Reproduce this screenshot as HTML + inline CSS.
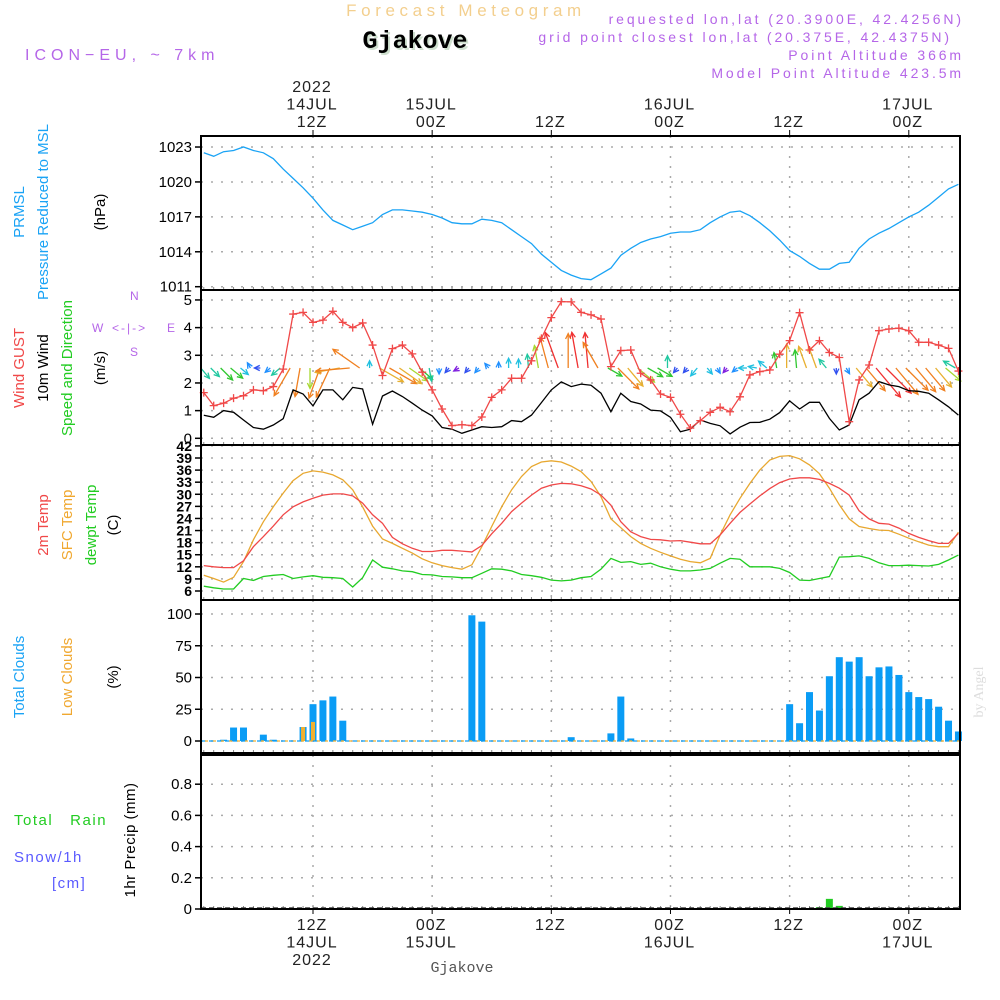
<!DOCTYPE html>
<html><head><meta charset="utf-8">
<style>
html,body{margin:0;padding:0;background:#fff;}
svg{display:block;font-family:"Liberation Sans",sans-serif;}
</style></head>
<body>
<svg id="chart" width="1000" height="1000" viewBox="0 0 1000 1000" xmlns="http://www.w3.org/2000/svg">
<rect x="0" y="0" width="1000" height="1000" fill="#fff"/>
<!-- header -->
<text x="466" y="16" text-anchor="middle" font-size="17" fill="#f3cf8e" letter-spacing="4.6">Forecast Meteogram</text>
<text x="417" y="50" text-anchor="middle" font-family="Liberation Mono, monospace" font-weight="bold" font-size="25" fill="#cfe0cf">Gjakove</text>
<text x="415" y="48" text-anchor="middle" font-family="Liberation Mono, monospace" font-weight="bold" font-size="25" fill="#000">Gjakove</text>
<text x="25" y="60" font-size="16" fill="#b566e8" letter-spacing="5">ICON−EU, ~ 7km</text>
<g font-size="14" fill="#b566e8" text-anchor="end" letter-spacing="2.9">
<text x="964" y="24">requested lon,lat (20.3900E, 42.4256N)</text>
<text x="952" y="42">grid point closest lon,lat (20.375E, 42.4375N)</text>
<text x="964" y="60">Point Altitude 366m</text>
<text x="964" y="78">Model Point Altitude 423.5m</text>
</g>
<!-- left labels -->
<g font-size="15">
<text transform="translate(24,212) rotate(-90)" text-anchor="middle" fill="#1aa3f5">PRMSL</text>
<text transform="translate(48,212) rotate(-90)" text-anchor="middle" fill="#1aa3f5">Pressure Reduced to MSL</text>
<text transform="translate(105,212) rotate(-90)" text-anchor="middle" fill="#000">(hPa)</text>
</g>
<g font-size="15">
<text transform="translate(24,368) rotate(-90)" text-anchor="middle" fill="#f04848">Wind GUST</text>
<text transform="translate(48,368) rotate(-90)" text-anchor="middle" fill="#000">10m Wind</text>
<text transform="translate(72,368) rotate(-90)" text-anchor="middle" fill="#22cc22">Speed and Direction</text>
<text transform="translate(105,368) rotate(-90)" text-anchor="middle" fill="#000">(m/s)</text>
</g>
<g font-size="12" fill="#b566e8">
<text x="92" y="332">W</text>
<text x="112" y="332" letter-spacing="2">&lt;-|-&gt;</text>
<text x="167" y="332">E</text>
<text x="130" y="300">N</text>
<text x="130" y="356">S</text>
</g>
<g font-size="15">
<text transform="translate(48,525) rotate(-90)" text-anchor="middle" fill="#f04848">2m Temp</text>
<text transform="translate(72,525) rotate(-90)" text-anchor="middle" fill="#f0a830">SFC Temp</text>
<text transform="translate(96,525) rotate(-90)" text-anchor="middle" fill="#22cc22">dewpt Temp</text>
<text transform="translate(118,525) rotate(-90)" text-anchor="middle" fill="#000">(C)</text>
</g>
<g font-size="15">
<text transform="translate(24,677) rotate(-90)" text-anchor="middle" fill="#1aa3f5">Total Clouds</text>
<text transform="translate(72,677) rotate(-90)" text-anchor="middle" fill="#f0a830">Low Clouds</text>
<text transform="translate(118,677) rotate(-90)" text-anchor="middle" fill="#000">(%)</text>
</g>
<g font-size="15" letter-spacing="1.5">
<text x="14" y="825" fill="#22cc22">Total&#160;&#160;&#160;Rain</text>
<text x="14" y="862" fill="#5a5aff">Snow/1h</text>
<text x="52" y="888" fill="#5a5aff">[cm]</text>
<text transform="translate(135,840) rotate(-90)" text-anchor="middle" fill="#000" letter-spacing="0.5">1hr Precip (mm)</text>
</g>
<text transform="translate(983,692) rotate(-90)" text-anchor="middle" font-family="Liberation Serif, serif" font-size="14" fill="#dddddd">by Angel</text>
<text x="462" y="972" text-anchor="middle" font-family="Liberation Mono, monospace" font-size="15" fill="#555">Gjakove</text>
<g id="plot"></g>
</svg>
<script>
// hours relative to 12Z 14JUL 2022
const hours=[];for(let h=-11;h<=65;h++)hours.push(h);
const pressure=[1022.5,1022.2,1022.6,1022.7,1023.0,1022.7,1022.5,1022.0,1021.1,1020.3,1019.5,
1018.6,1017.6,1016.7,1016.3,1015.9,1016.2,1016.5,1017.2,1017.6,1017.6,1017.5,1017.4,1017.2,1016.9,1016.5,1016.4,1016.4,1016.8,1016.7,1016.5,1015.9,1015.3,1014.7,1013.8,
1013.1,1012.4,1012.0,1011.7,1011.6,1012.1,1012.6,1013.7,1014.3,1014.8,1015.1,1015.3,1015.6,1015.7,1015.7,1015.9,1016.5,1017.0,1017.4,1017.5,1017.1,1016.5,1015.8,1015.0,
1014.1,1013.6,1013.0,1012.5,1012.5,1013.0,1013.1,1014.3,1015.1,1015.6,1016.0,1016.5,1017.0,1017.4,1018.0,1018.7,1019.4,1019.8];
const gust=[1.65,1.18,1.27,1.45,1.54,1.75,1.72,1.87,2.5,4.49,4.55,
4.19,4.27,4.59,4.19,4.0,4.17,3.37,2.27,3.24,3.37,3.05,2.39,1.75,1.06,0.46,0.49,0.46,0.77,1.48,1.75,2.17,2.17,2.8,3.61,
4.36,4.94,4.93,4.55,4.46,4.31,2.59,3.17,3.19,2.35,2.11,1.6,1.48,0.87,0.37,0.64,0.94,1.12,0.96,1.5,2.29,2.41,2.47,3.04,
3.53,4.54,3.19,3.53,3.1,2.92,0.6,2.11,2.65,3.89,3.95,3.98,3.89,3.47,3.47,3.37,3.25,2.43];
const wind=[0.83,0.76,1.0,0.94,0.66,0.39,0.33,0.48,0.71,1.75,1.6,
1.17,1.75,1.75,1.39,1.84,1.78,0.51,1.53,1.71,1.51,1.27,1.02,0.81,0.39,0.33,0.18,0.3,0.42,0.39,0.42,0.64,0.6,0.84,1.29,
1.75,2.04,1.87,1.96,1.92,1.63,0.96,1.63,1.33,1.24,1.02,0.99,0.76,0.24,0.33,0.66,0.54,0.45,0.16,0.4,0.57,0.58,0.69,0.93,
1.35,1.06,1.3,1.3,0.72,0.3,0.48,1.39,1.63,2.05,1.93,1.87,1.72,1.7,1.63,1.39,1.14,0.84];
const windDir=[320,315,315,310,310,150,90,50,50,30,10,
0,20,25,80,85,125,180,300,300,305,305,310,350,0,40,60,40,40,140,180,180,180,175,170,
165,160,180,170,175,150,300,315,320,310,300,300,180,40,40,40,320,330,40,50,90,100,130,170,
180,175,160,160,140,0,330,320,320,320,315,320,315,320,320,320,310,120];
const temp2m=[12.3,12.0,11.8,11.8,13.5,17.0,19.5,22.1,24.9,26.9,28.1,
29.0,29.8,30.1,30.1,29.6,27.8,24.9,22.8,19.3,17.7,16.6,15.8,15.8,16.1,16.1,15.9,15.7,17.3,20.2,22.8,25.7,27.8,29.8,31.5,
32.3,32.7,32.6,32.1,31.3,29.8,27.3,23.2,20.7,19.5,18.8,18.7,18.4,18.5,18.1,17.7,17.7,19.9,22.8,25.5,27.6,29.6,31.4,32.9,
33.8,34.1,34.1,33.7,32.7,31.5,29.8,25.9,23.9,22.8,22.6,21.6,20.3,19.3,18.5,17.8,17.8,20.3];
const tempSfc=[9.9,9.1,8.2,9.4,13.3,18.7,23.2,26.9,30.3,33.4,35.2,
35.8,35.5,34.8,33.6,31.1,26.9,22.1,18.9,17.8,16.6,15.4,14.0,13.0,12.3,11.8,11.4,12.5,17.0,22.0,26.9,31.1,34.4,36.9,38.0,
38.3,38.0,37.0,35.6,33.2,29.4,23.9,21.7,19.5,17.8,16.6,15.6,14.7,13.9,13.3,13.0,14.1,19.9,24.9,29.0,32.7,36.0,38.5,39.4,
39.6,38.8,37.3,35.1,31.5,27.4,23.9,22.0,21.5,21.1,21.0,20.1,19.1,18.2,17.4,17.0,17.0,20.6];
const dewpt=[7.2,6.8,6.5,6.5,9.1,8.6,9.6,9.9,10.1,9.1,9.5,
9.8,9.4,9.3,9.1,7.0,9.3,13.7,11.9,11.5,11.0,10.8,10.1,10.0,9.6,9.5,9.3,9.3,10.4,11.5,11.4,11.0,10.1,9.8,9.4,
8.7,8.5,8.7,9.3,9.6,11.4,14.1,13.1,13.3,12.6,12.9,12.0,11.4,11.0,11.0,11.2,11.6,12.9,14.1,13.9,12.0,12.0,12.0,11.6,
10.6,8.7,8.6,9.1,9.6,14.4,14.5,14.7,14.1,13.0,12.3,12.3,12.4,12.3,12.2,12.6,13.7,14.9];
const totalClouds=[0,0,1,10.6,10.6,0,5,1,0,0,11,
29,32,35,16,0,0,0,0,0,0,0,0,0,0,0,0,99,94,0,0,0,0,0,0,
0,0,3,0,0,0,6,35,2,0,0,0,0,0,0,0,0,0,0,0,0,0,0,0,
29,14,38.5,24,51,66,62.5,66,51,58,58.7,52,38.5,34.6,33,27,16,7.5];
const lowClouds=[0,0,0,0,0,0,0,0,0,0,11,
15,0,0,0,0,0,0,0,0,0,0,0,0,0,0,0,0,0,0,0,0,0,0,0,
0,0,0,0,0,0,0,0,0,0,0,0,0,0,0,0,0,0,0,0,0,0,0,0,
0,0,0,0,0,0,0,0,0,0,0,0,0,0,0,0,0,0];
const precipHours=[51,52,53];
const precipVals=[0.012,0.065,0.02];
const pressTicks=[1011,1014,1017,1020,1023];
const windTicks=[0,1,2,3,4,5];
const tempTicks=[6,9,12,15,18,21,24,27,30,33,36,39,42];
const cloudTicks=[0,25,50,75,100];
const precipTicks=[0,0.2,0.4,0.6,0.8];
const timeTicks=[0,12,24,36,48,60];
const topLabels=[["2022","14JUL","12Z"],["","15JUL","00Z"],["","","12Z"],["","16JUL","00Z"],["","","12Z"],["","17JUL","00Z"]];
const botLabels=[["12Z","14JUL","2022"],["00Z","15JUL",""],["12Z","",""],["00Z","16JUL",""],["12Z","",""],["00Z","17JUL",""]];

const NS="http://www.w3.org/2000/svg";
const plot=document.getElementById('plot');
const X0=201,X1=960;
function xH(h){return 313+h*9.93;}
function yP(p){return 286.7-(p-1011)*11.64;}
function yW(v){return 438.3-v*27.67;}
function yT(t){return 591-(t-6)*4.03;}
function yC(c){return 741-c*1.27;}
function yR(r){return 909-r*156;}
function mk(tag,attrs,parent){const e=document.createElementNS(NS,tag);for(const k in attrs)e.setAttribute(k,attrs[k]);(parent||plot).appendChild(e);return e;}

const panels=[{name:'pressure',y0:136,y1:290,ticks:pressTicks,f:yP,lab:v=>String(v)},
{name:'wind',y0:290,y1:445,ticks:windTicks,f:yW,lab:v=>String(v)},
{name:'temp',y0:445,y1:600,ticks:tempTicks,f:yT,lab:v=>String(v)},
{name:'cloud',y0:600,y1:753,ticks:cloudTicks,f:yC,lab:v=>String(v)},
{name:'precip',y0:755,y1:909,ticks:precipTicks,f:yR,lab:v=>v===0?'0':v.toFixed(1)}];

panels.forEach(p=>{
  timeTicks.forEach(h=>{
    const l=mk('line',{x1:xH(h),x2:xH(h),y1:p.y0,y2:p.y1,stroke:'#aaa','stroke-width':1.5,'stroke-dasharray':'2,8'});
    
    
  });
  p.ticks.forEach(v=>{
    const y=p.f(v);
    const g=mk('line',{x1:X0,x2:X1,y1:y,y2:y,stroke:'#aaa','stroke-width':1.5,'stroke-dasharray':'2,8'});
    
    
    const t=mk('line',{x1:X0-6,x2:X0,y1:y,y2:y,stroke:'#000','stroke-width':1.5});
    
    
    const tx=mk('text',{x:X0-9,y:y+5,'text-anchor':'end','font-size':p.name==='temp'?14:15,fill:'#000'});
    
    
    if(p.name==='temp')tx.setAttribute('font-weight','bold');
    tx.textContent=p.lab(v);
  });
  hours.forEach(h=>{
    const t=mk('line',{x1:xH(h),x2:xH(h),y1:p.y1-3,y2:p.y1,stroke:'#888','stroke-width':1});
    
    
  });
});

function line(arr,f,color,name,w){
  const pts=hours.map((h,i)=>xH(h).toFixed(1)+','+f(arr[i]).toFixed(1)).join(' ');
  const e=mk('polyline',{points:pts,fill:'none',stroke:color,'stroke-width':w||1.3});
  
  
  return e;
}
line(pressure,yP,'#1aa3f5','pressure-line');

function spdColor(s){
  if(s>=1.9)return '#f03030';if(s>=1.6)return '#f08020';if(s>=1.3)return '#e8b030';
  if(s>=1.1)return '#a8d830';if(s>=0.9)return '#30c830';if(s>=0.7)return '#20c8a0';
  if(s>=0.5)return '#20c0e0';if(s>=0.35)return '#2090ff';if(s>=0.2)return '#3050f0';return '#8020e0';}
hours.forEach((h,i)=>{
  const s=wind[i],L=Math.max(6,20*s-3),to=(windDir[i]+180)*Math.PI/180;
  const x0=xH(h)-3,y0=368,x1=x0+Math.sin(to)*L,y1=y0-Math.cos(to)*L;
  const a=Math.atan2(y1-y0,x1-x0),hl=6,c=spdColor(s);
  const g=mk('g',{stroke:c,'stroke-width':1.3,fill:'none'});
  
  
  mk('line',{x1:x0,y1:y0,x2:x1,y2:y1},g);
  mk('polyline',{points:(x1-hl*Math.cos(a-0.45))+','+(y1-hl*Math.sin(a-0.45))+' '+x1+','+y1+' '+(x1-hl*Math.cos(a+0.45))+','+(y1-hl*Math.sin(a+0.45))},g);
});
line(wind,yW,'#000','wind-speed-line');
line(gust,yW,'#f04848','wind-gust-line');
hours.forEach((h,i)=>{
  const x=xH(h),y=yW(gust[i]);
  const m=mk('path',{d:`M${x-4},${y}H${x+4}M${x},${y-4}V${y+4}`,stroke:'#f04848','stroke-width':1.3});
  
  
});
line(tempSfc,yT,'#e8a830','sfc-temp-line');
line(temp2m,yT,'#f04848','temp-2m-line');
line(dewpt,yT,'#22cc22','dewpt-line');

hours.forEach((h,i)=>{
  if(totalClouds[i]>0){
    const b=mk('rect',{x:xH(h)-3.5,y:yC(totalClouds[i]),width:7,height:yC(0)-yC(totalClouds[i]),fill:'#0a9cf5'});
    
    
  }
  if(lowClouds[i]>0){
    const b=mk('rect',{x:xH(h)-2,y:yC(lowClouds[i]),width:4,height:yC(0)-yC(lowClouds[i]),fill:'#f0b030'});
    
    
  }
});
const cz=mk('line',{x1:X0,x2:X1,y1:741,y2:741,stroke:'#0a9cf5','stroke-width':1.2,'stroke-dasharray':'5,3'});


const lz=mk('line',{x1:X0+4,x2:X1,y1:741,y2:741,stroke:'#f0b030','stroke-width':1.2,'stroke-dasharray':'3,5'});



precipHours.forEach((h,i)=>{
  const b=mk('rect',{x:xH(h)-3.5,y:yR(precipVals[i]),width:7,height:yR(0)-yR(precipVals[i]),fill:'#22cc22'});
  
  
});
const pz=mk('line',{x1:X0,x2:X1,y1:908,y2:908,stroke:'#444','stroke-width':1.5,'stroke-dasharray':'5,3'});



panels.forEach(p=>{
  const r=mk('rect',{x:X0,y:p.y0,width:X1-X0,height:p.y1-p.y0,fill:'none',stroke:'#000','stroke-width':2});
  
  
});

timeTicks.forEach((h,i)=>{
  const x=xH(h)-1;
  const tk=mk('line',{x1:x+1,x2:x+1,y1:130,y2:136,stroke:'#000','stroke-width':1});
  
  
  topLabels[i].forEach((s,j)=>{
    if(!s)return;
    const t=mk('text',{x:x,y:92+j*17.5,'text-anchor':'middle','font-size':16,fill:'#222','letter-spacing':'1'});
    
    
    t.textContent=s;
  });
  const bk=mk('line',{x1:x+1,x2:x+1,y1:909,y2:914,stroke:'#000','stroke-width':1});
  
  
  botLabels[i].forEach((s,j)=>{
    if(!s)return;
    const t=mk('text',{x:x,y:930+j*17.5,'text-anchor':'middle','font-size':16,fill:'#222','letter-spacing':'1'});
    
    
    t.textContent=s;
  });
});
</script>
</body></html>
